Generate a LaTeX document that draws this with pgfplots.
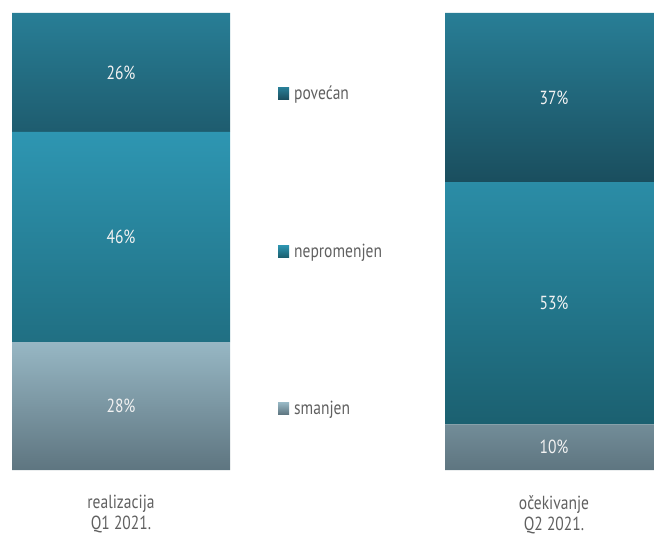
\documentclass[border=0pt]{standalone}
\usepackage{pgfplots}
\pgfplotsset{compat=1.18}
\usepackage{fontspec}
\setmainfont{PT Sans}[FakeStretch=0.82]

\definecolor{povT}{HTML}{287E96}
\definecolor{povB}{HTML}{1A4E5E}
\definecolor{nepT}{HTML}{2E96B2}
\definecolor{nepB}{HTML}{1B6070}
\definecolor{smaT}{HTML}{97B7C4}
\definecolor{smaB}{HTML}{5E7580}
\definecolor{txtgray}{HTML}{606060}
\definecolor{numwhite}{HTML}{F2F2F2}

\tikzset{pct/.style={text=numwhite, font=\fontsize{19}{21}\selectfont}}

\begin{document}
\begin{tikzpicture}
\begin{axis}[
    scale only axis,
    width=654bp, height=457bp,
    xmin=0, xmax=654, ymin=0, ymax=100,
    ybar stacked, bar width=218,
    axis line style={draw=none},
    tick style={draw=none},
    ytick=\empty,
    xtick={121,554},
    xticklabels={realizacija\\Q1 2021., očekivanje\\Q2 2021.},
    xticklabel style={align=center, text=txtgray,
        font=\fontsize{19}{21}\selectfont, yshift=-22bp},
    legend style={at={(axis cs:278,84.5)}, anchor=north west,
        draw=none, fill=none, text=txtgray,
        font=\fontsize{19}{21}\selectfont,
        row sep=138.5bp, inner sep=0pt},
    legend cell align=left,
    reverse legend,
]
    \addplot[draw=none, top color=smaT, bottom color=smaB,
        legend image code/.code={\path[top color=smaT, bottom color=smaB] (0bp,-6bp) rectangle (11bp,6bp); \path (14bp,0bp);}]
      coordinates {(121,28) (554,10)};
    \addlegendentry{smanjen}
    \addplot[draw=none, top color=nepT, bottom color=nepB,
        legend image code/.code={\path[top color=nepT, bottom color=nepB] (0bp,-6bp) rectangle (11bp,6bp); \path (14bp,0bp);}]
      coordinates {(121,46) (554,53)};
    \addlegendentry{nepromenjen}
    \addplot[draw=none, top color=povT, bottom color=povB,
        legend image code/.code={\path[top color=povT, bottom color=povB] (0bp,-6bp) rectangle (11bp,6bp); \path (14bp,0bp);}]
      coordinates {(121,26) (554,37)};
    \addlegendentry{povećan}

    \coordinate (a1) at (axis cs:121,14);
    \coordinate (a2) at (axis cs:121,51);
    \coordinate (a3) at (axis cs:121,87);
    \coordinate (b1) at (axis cs:554,5);
    \coordinate (b2) at (axis cs:554,36.5);
    \coordinate (b3) at (axis cs:554,81.5);
\end{axis}
\node[pct] at (a1) {28\%};
\node[pct] at (a2) {46\%};
\node[pct] at (a3) {26\%};
\node[pct] at (b1) {10\%};
\node[pct] at (b2) {53\%};
\node[pct] at (b3) {37\%};
\pgfresetboundingbox
\path[use as bounding box] (0bp,-64bp) rectangle (654bp,470bp);
\end{tikzpicture}
\end{document}
